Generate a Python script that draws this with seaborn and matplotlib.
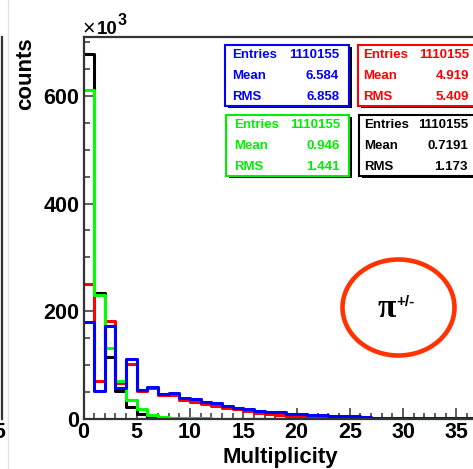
import numpy as np
import pandas as pd
import matplotlib
matplotlib.use("Agg")
import matplotlib.pyplot as plt
import seaborn as sns
from matplotlib.patches import Rectangle, Ellipse
from matplotlib.lines import Line2D
from matplotlib.ticker import MultipleLocator

# ---- data: entries per multiplicity bin (in units of 10^3) ----
multiplicity = np.arange(40)
counts_black = [678, 234, 114, 51, 21, 9, 3.5, 1.5, 0.7, 0.3, 0.1] + [0] * 29
counts_red = [251, 70, 181, 66, 101, 52, 57, 44, 43, 35, 31, 27, 24, 20, 17, 14,
              11, 9, 7, 5, 3.5, 2, 1.2, 0.7, 0.4, 0.2, 0.1] + [0] * 13
counts_green = [612, 230, 131, 70, 34, 17, 7, 3, 1.2, 0.5, 0.2, 0.1] + [0] * 28
counts_blue = [180, 52, 172, 57, 110, 53, 59, 46, 48, 38, 37, 30, 29, 24, 20, 17,
               14, 12, 12, 9, 9, 7, 7, 5, 4, 4, 3.5, 1.5, 0.8, 0.5, 0.4, 0.3, 0.2,
               0.2, 0.1, 0.1, 0.1, 0.1, 0.05, 0.05]

stat_labels = ["Entries", "Mean", "RMS"]
stats_blue = ["1110155", "6.584", "6.858"]
stats_red = ["1110155", "4.919", "5.409"]
stats_green = ["1110155", "0.946", "1.441"]
stats_black = ["1110155", "0.7191", "1.173"]

y_ticks = [0, 200, 400, 600]
x_ticks = list(range(0, 41, 5))

# ---- figure setup ----
W, H = 473, 469
sns.set_style("ticks")
plt.rcParams["font.family"] = ["Liberation Sans", "DejaVu Sans"]
plt.rcParams["font.weight"] = "bold"
for key in ["text.color", "axes.labelcolor", "xtick.labelcolor", "ytick.labelcolor"]:
    plt.rcParams[key] = "black"

fig = plt.figure(figsize=(W / 100, H / 100), dpi=100)


def fx(x):
    return x / W


def fy(y):
    return 1 - y / H


X0, Y0, YTOP = 83.5, 418.5, 37
PX_PER_UNIT = 10.65
XMAX, YMAX = 40, 710
AX_W = XMAX * PX_PER_UNIT
AX_H = Y0 - YTOP
AXIS_COLOR = "#333333"
TICK_SIZE = 15.5

# neighbouring pad, only its right edge is in view
axl = fig.add_axes([fx(2 - 380), fy(Y0), 380 / W, AX_H / H])
axl.set_xlim(0, 35.7)
axl.set_ylim(0, YMAX)
axl.set_xticks([35])
axl.set_yticks([])
for side in ["top", "left", "bottom"]:
    axl.spines[side].set_visible(False)
axl.spines["right"].set_linewidth(1.6)
axl.spines["right"].set_color(AXIS_COLOR)
axl.tick_params(axis="x", length=0, labelsize=TICK_SIZE, pad=2.5,
                labelcolor="black")
fig.add_artist(Line2D([fx(7.5), fx(7.5)], [0, 1], transform=fig.transFigure,
                      color="#e2e2e2", lw=1))

# main pad
ax = fig.add_axes([fx(X0), fy(Y0), AX_W / W, AX_H / H])
edges = [float(e) for e in range(0, XMAX + 1)]
for counts, color in [(counts_black, "black"), (counts_red, "#ff0000"),
                      (counts_green, "#00ff00"), (counts_blue, "#0000ff")]:
    df = pd.DataFrame({"multiplicity": multiplicity + 0.5,
                       "counts": np.asarray(counts, dtype=float)})
    sns.histplot(data=df, x="multiplicity", weights="counts", bins=edges,
                 element="step", fill=False, color=color, linewidth=2.2,
                 alpha=1, ax=ax)

ax.set_xlim(0, XMAX)
ax.set_ylim(0, YMAX)
ax.set_xticks(x_ticks)
ax.set_yticks(y_ticks)
ax.xaxis.set_minor_locator(MultipleLocator(1))
ax.yaxis.set_minor_locator(MultipleLocator(50))
ax.tick_params(which="both", direction="in", color=AXIS_COLOR, width=1.1,
               labelsize=TICK_SIZE, labelcolor="black")
ax.tick_params(which="major", length=8)
ax.tick_params(which="minor", length=4.3)
ax.tick_params(axis="x", pad=2.5)
ax.tick_params(axis="y", pad=3)
for side in ax.spines:
    ax.spines[side].set_linewidth(1.6)
    ax.spines[side].set_color(AXIS_COLOR)

ax.set_xlabel("Multiplicity", fontsize=16, fontweight="bold", ha="right",
              color="black")
ax.xaxis.set_label_coords((338 - X0) / AX_W, -(447 - Y0) / AX_H)
ax.set_ylabel("counts", fontsize=16, fontweight="bold", color="black")
ax.yaxis.label.set_ha("right")
ax.yaxis.label.set_va("center")
ax.yaxis.set_label_coords((26 - X0) / AX_W, 1.0)

# axis exponent
fig.text(fx(82.5), fy(34.5), "\u00d7", fontsize=15.5, fontweight="normal",
         ha="left", va="baseline")
fig.text(fx(96.5), fy(34.5), "10", fontsize=13.5, ha="left", va="baseline")
fig.text(fx(118), fy(25), "3", fontsize=11.5, ha="left", va="baseline")


# statistics boxes
def stat_box(left, top, right, bottom, color, values, text_left, value_right):
    w, h = (right - left) / W, (bottom - top) / H
    fig.add_artist(Rectangle((fx(left + 2.5), fy(bottom + 2.5)), w, h,
                             transform=fig.transFigure, facecolor="black",
                             edgecolor="none", zorder=3))
    fig.add_artist(Rectangle((fx(left), fy(bottom)), w, h,
                             transform=fig.transFigure, facecolor="white",
                             edgecolor=color, lw=1.5, zorder=4))
    for i, (label, value) in enumerate(zip(stat_labels, values)):
        y = top + 10.5 + 20.5 * i
        fig.text(fx(text_left), fy(y), label, color=color, fontsize=9.5,
                 fontweight="bold", ha="left", va="center", zorder=5)
        fig.text(fx(value_right), fy(y), value, color=color, fontsize=9.5,
                 fontweight="bold", ha="right", va="center", zorder=5)


stat_box(225, 45, 349, 106, "#0000ff", stats_blue, 232, 339)
stat_box(358, 45, 490, 106, "#ff0000", stats_red, 363, 469)
stat_box(226, 115, 349, 176, "#00ee00", stats_green, 234, 340)
stat_box(359, 115, 490, 176, "black", stats_black, 364, 468)

# particle species marker
fig.add_artist(Ellipse((fx(398.5), fy(307.5)), 112 / W, 96 / H,
                       transform=fig.transFigure, fill=False,
                       edgecolor="#ff3300", lw=3.3, zorder=3))
fig.text(fx(386.5), fy(317), "\u03c0", family=["Liberation Serif", "DejaVu Serif"],
         fontweight="bold", fontsize=24, ha="center", va="baseline", zorder=4)
fig.text(fx(396.5), fy(306.5), "+/-", fontsize=11, fontweight="bold",
         ha="left", va="baseline", zorder=4)

fig.savefig("out.png", dpi=100)
